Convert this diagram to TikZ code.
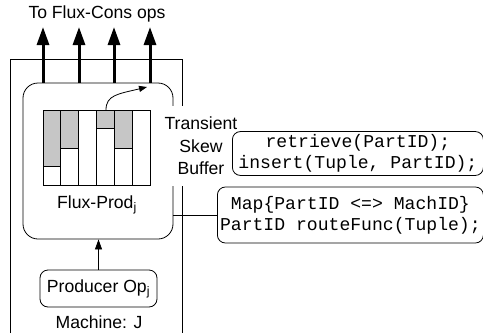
\documentclass[tikz,border=0pt]{standalone}
\usepackage{fontspec}
\setmainfont{Liberation Sans}
\setmonofont{Liberation Mono}
\usetikzlibrary{arrows.meta}

\begin{document}
\begin{tikzpicture}[x=1pt,y=-1pt,line width=0.8pt,>={Triangle[length=10pt,width=7pt]},
        every node/.append style={font=\fontsize{17.6}{22.5}\selectfont},
        box/.style={draw,rounded corners=8pt,inner sep=3pt},
        code/.style={box,anchor=west,align=center,inner xsep=2pt,font=\fontsize{18.1}{21}\ttfamily},
        outarrow/.style={line width=3pt,-{Triangle[length=18pt,width=12pt]}}]
        \useasboundingbox (0,0) rectangle (483,333);

        % machine J and the flux producer
        \draw (10,333) -- (10,59) -- (182,59) -- (182,333);
        \node[draw,rounded corners=15pt,minimum width=150pt,minimum height=156pt] (prod) at (98,161) {};
        \node (prodlbl) at (97,205) {Flux-Prod\textsubscript{j}};

        % buffer slots
        \foreach \i/\g in {0/166,1/148,2/110,3/128,4/148,5/110} {
            \fill[gray!45] (43+17.83*\i,110) rectangle ++(17.83,\g-110);
            \draw (43+17.83*\i,110) rectangle ++(17.83,75);
            \draw (43+17.83*\i,\g) -- ++(17.83,0);
        }
        \coordinate (spill) at (106,110);
        \coordinate (slot) at (147,87);
        \draw[->,>={Triangle[length=8pt,width=6pt]}] (spill) .. controls (106,95) and (118,94) .. (slot);

        % outputs
        \node (cons) at (97,14) {To Flux-Cons ops};
        \foreach \x [count=\k] in {43,79,114,150} {
            \coordinate (o\k) at (\x,27);
            \draw[outarrow] (o\k |- prod.north) -- (o\k);
        }

        % buffer and routing
        \node[fill=white,align=center,minimum height=80pt,inner xsep=1pt] (buf) at (201,146) {Transient\\Skew\\Buffer};
        \node[code,minimum width=251pt,minimum height=43pt] (rt) at (232,153.5) {retrieve(PartID);\\insert(Tuple, PartID);};
        \node[code,minimum width=266pt,minimum height=56pt] (map) at (217,215) {Map\{PartID <=> MachID\}\\PartID routeFunc(Tuple);};
        \draw (map.west) -- (map.west -| prod.east);

        % producer
        \node[box,minimum width=117pt,minimum height=37pt] (op) at (98.5,288.5) {Producer Op\textsubscript{j}};
        \draw[->] (op) -- (op |- prod.south);
        \node (mach) at (99,322) {Machine: J};
    \end{tikzpicture}
\end{document}
